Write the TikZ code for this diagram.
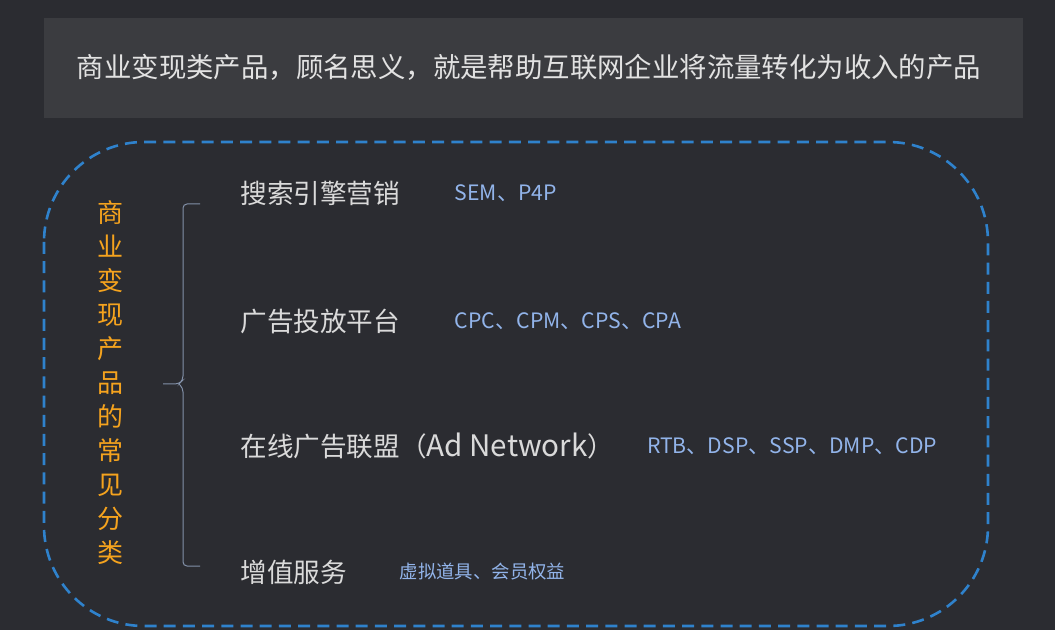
\documentclass[tikz,border=0pt]{standalone}
\usepackage{fontspec}
\setmainfont{Noto Sans CJK SC}
\usetikzlibrary{positioning}
\definecolor{bgdark}{HTML}{2B2C31}
\definecolor{introbox}{HTML}{3B3C40}
\definecolor{introtext}{HTML}{E2E2E2}
\definecolor{itemtext}{HTML}{DADADA}
\definecolor{tagblue}{HTML}{92B4EA}
\definecolor{frameblue}{HTML}{2F82CC}
\definecolor{catorange}{HTML}{F5A31E}
\definecolor{bracegrey}{HTML}{8290A8}

\begin{document}
\begin{tikzpicture}[x=0.5pt,y=-0.5pt]
\tikzstyle{item}=[anchor=west, inner sep=0pt, text=itemtext, font=\fontsize{13.3}{16}\selectfont]
\tikzstyle{tag}=[inner sep=0pt, text=tagblue, font=\fontsize{10.6}{12}\selectfont]
\fill[bgdark] (0,0) rectangle (1055,630);
\useasboundingbox (0,0) rectangle (1055,630);

% intro banner
\fill[introbox] (44,18) rectangle (1023,118);
\node[inner sep=0pt, text=introtext, font=\fontsize{13.7}{16}\selectfont] (intro) at (529,67)
  {商业变现类产品，顾名思义，就是帮助互联网企业将流量转化为收入的产品};

% dashed frame
\draw[frameblue, line width=1.3pt, dash pattern=on 6pt off 3.6pt, rounded corners=50pt]
  (44,142) rectangle (988,626);

% category
\node[inner sep=0pt, align=center, text=catorange, font=\fontsize{13}{17}\selectfont] (cat) at (110,383)
  {商\\业\\变\\现\\产\\品\\的\\常\\见\\分\\类};

% items
\node[item] (sem) at (240,193) {搜索引擎营销};
\node[item] (ads) at (240,321) {广告投放平台};
\node[item] (net) at (240,446) {在线广告联盟（{\fontsize{14.8}{16}\selectfont Ad Network}）};
\node[item] (vas) at (240,572) {增值服务};

\node[tag, right=27pt of sem] (semtag) {SEM、P4P};
\node[tag, right=27pt of ads] (adstag) {CPC、CPM、CPS、CPA};
\node[tag, right=16pt of net] (nettag) {RTB、DSP、SSP、DMP、CDP};
\node[tag, right=26pt of vas, font=\fontsize{9.2}{11}\selectfont] (vastag) {虚拟道具、会员权益};

% brace
\coordinate (btop) at (200,204);
\coordinate (bbot) at (200,566);
\coordinate (bmid) at (163,384);
\draw[bracegrey, line width=0.5pt, rounded corners=2pt]
  (btop) -- (183,204) -- (183,380) -- (179,384) -- (bmid);
\draw[bracegrey, line width=0.5pt, rounded corners=2pt]
  (bbot) -- (183,566) -- (183,388) -- (179,384);
\end{tikzpicture}
\end{document}
